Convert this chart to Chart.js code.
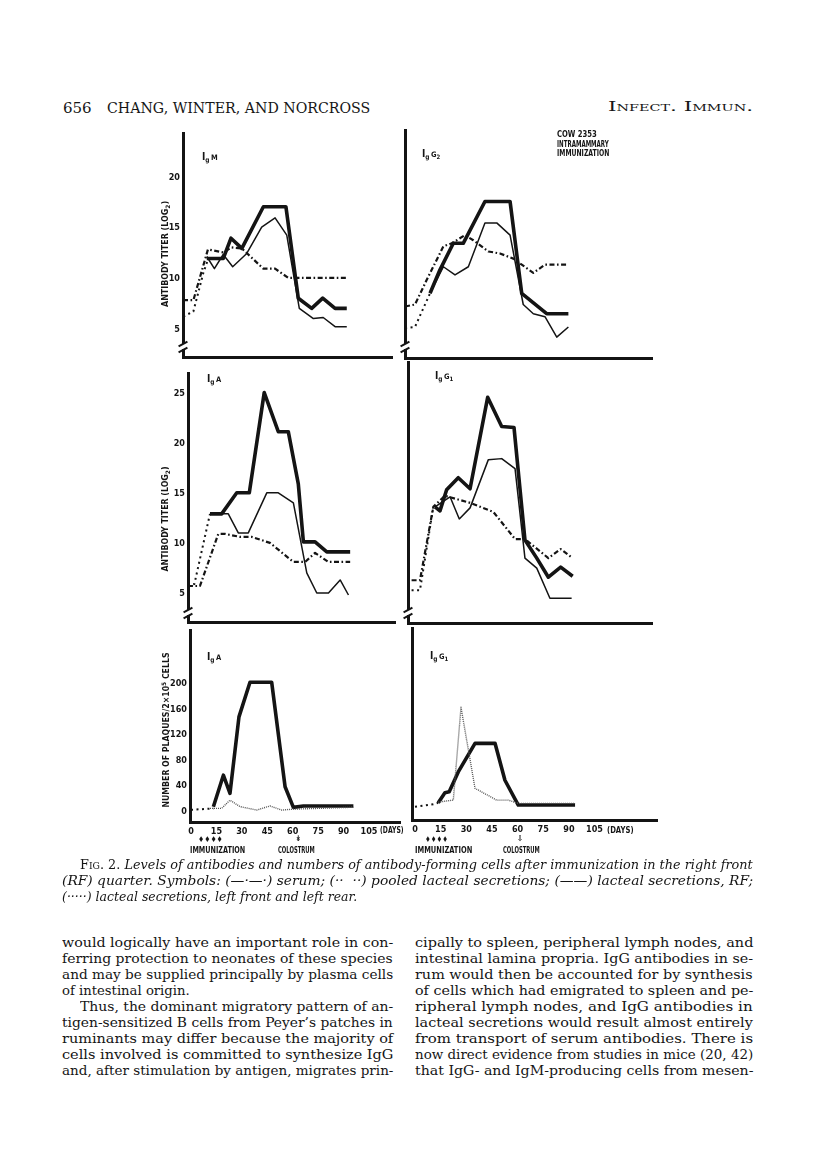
<!DOCTYPE html>
<html><head><meta charset="utf-8">
<script src="https://cdn.jsdelivr.net/npm/chart.js@4"></script>
<style>
html,body{margin:0;padding:0;background:#fff;}
#page{position:relative;width:816px;height:1175px;overflow:hidden;background:#fff;}
canvas{position:absolute;}
.t{position:absolute;white-space:nowrap;color:#151515;line-height:1;}
.lab{font-family:"DejaVu Sans Condensed","Liberation Sans Narrow","Liberation Sans",sans-serif;font-weight:bold;}
.serif{font-family:"DejaVu Serif","Liberation Serif",serif;}
.it{font-style:italic;}
.brk{position:absolute;}
</style></head>
<body><div id="page"></div>
<script>
// ---------- tick labels ----------
const DAY_TICKS = [0, 15, 30, 45, 60, 75, 90, 105];
const TITER_TICKS_TOP = [5, 10, 15, 20];
const TITER_TICKS_MID = [5, 10, 15, 20, 25];
const PLAQUE_TICKS = [0, 40, 80, 120, 160, 200];

// ---------- data: [day, value] ----------
// IgM (antibody titer, log2)
const igM_serum  = [[-4.7,7.9],[1.4,7.9],[10,12.9],[13.2,12.8],[19,12.6],[24,13.1],[30,13.0],[42.7,11.0],[49.6,11.0],[57.4,10.1],[91.9,10.1]];
const igM_pooled = [[-4.5,6.3],[1.4,6.8],[7.3,10.6],[10.2,12.0]];
const igM_rf     = [[9.3,12.0],[19,12.0],[23.6,14.0],[30,13.0],[42.7,17.1],[56,17.1],[63.3,8.1],[71.2,7.1],[77.7,8.1],[85,7.1],[91.9,7.1]];
const igM_lflr   = [[9.3,12.2],[13.8,11.0],[19,12.4],[24.6,11.2],[32.9,12.5],[41.7,15.1],[49.6,16.0],[56.5,14.3],[63.9,7.1],[72.2,6.1],[78,6.2],[85,5.3],[91.9,5.3]];
// IgG2
const igG2_serum  = [[-5.8,7.3],[0,7.5],[6.8,9.9],[16.6,13.2],[21.5,13.5],[29.2,14.3],[34.1,13.8],[42.9,12.7],[49.7,12.5],[57.5,12.0],[69.2,10.6],[76,11.4],[89.7,11.4]];
const igG2_pooled = [[-5.8,5.2],[0,5.3],[8.8,8.6]];
const igG2_rf     = [[8.8,8.6],[14.6,10.9],[22.4,13.5],[28.2,13.5],[40.9,17.6],[55.6,17.6],[62.4,8.6],[77,6.6],[89.7,6.6]];
const igG2_lflr   = [[8.8,8.6],[16.6,11.2],[23.4,10.4],[31.2,11.2],[40.9,15.5],[47.8,15.5],[55.6,14.3],[63.3,7.5],[69.2,6.6],[76,6.3],[82.9,4.3],[89.7,5.3]];
// IgA titer
const igA_serum  = [[-1.8,5.8],[5.3,5.8],[16.1,11.0],[20.1,11.0],[28.9,10.7],[35.8,10.7],[46.6,10.1],[60.4,8.2],[67.3,8.2],[73.2,9.1],[81.1,8.2],[93.9,8.2]];
const igA_pooled = [[-1.8,5.8],[2,6.0],[11.2,13.0]];
const igA_rf     = [[11.2,13.0],[18.1,13.0],[27,15.1],[34.4,15.1],[43.2,25.1],[51.5,21.2],[57.4,21.2],[63.3,16.0],[66.3,10.2],[73.2,10.2],[80.1,9.2],[93.9,9.2]];
const igA_lflr   = [[11.2,13.0],[22,13.0],[27.9,11.1],[33.8,11.1],[44.7,15.1],[51.5,15.1],[60.4,14.1],[68.3,7.1],[74.2,5.1],[81.1,5.1],[88,6.4],[92.9,4.9]];
// IgG1 titer
const igG1_serum  = [[-2,6.4],[2.9,6.4],[10.7,13.7],[17.5,14.8],[32.2,14.1],[45.8,13.2],[58.5,10.5],[64.3,10.5],[78,8.6],[85.2,9.5],[92.2,8.6]];
const igG1_pooled = [[-2,5.4],[2.9,5.4],[10.7,13.7]];
const igG1_rf     = [[11.7,13.7],[14.6,13.3],[18.5,15.4],[25.3,16.6],[32.2,15.5],[42.5,24.6],[50.7,21.7],[57.9,21.6],[64.3,10.4],[71.2,8.6],[78,6.7],[85.2,7.7],[92.2,6.8]];
const igG1_lflr   = [[11.7,13.7],[20.5,14.7],[25.9,12.5],[32.2,13.6],[42.9,18.4],[50.7,18.5],[58.5,17.5],[64.3,8.6],[71.2,7.6],[78.9,4.6],[91.6,4.6]];
// plaques / 2x10^5 cells
const pfcA_pooled  = [[0,3],[13.2,5]];
const pfcA_rf      = [[13.2,7.8],[19.1,57],[23,28.7],[28.3,148],[34.8,202],[47.6,202],[55.5,39],[60.4,6.8],[66.3,9],[95.8,9]];
const pfcA_lflr    = [[11.2,5.3],[18.1,5.3],[23,18],[28.9,8],[38.8,2.6],[46.6,9],[53.5,2.6],[60.4,4],[95.8,7]];
const pfcG1_pooled = [[0,7.8],[10.7,11.5],[13.6,14]];
const pfcG1_rf     = [[13.6,14],[17.5,29.6],[20,31],[25.3,62],[35.1,106.5],[46.8,106.5],[52.6,49],[60.4,10.4],[93.6,10.4]];
const pfcG1_lflr   = [[13.6,15],[22.4,18],[26.9,162.6],[35.1,36.4],[47.8,18],[54.6,18],[60.4,13],[93.6,13]];

// ---------- styles ----------
const INK = '#141414';
const S_SERUM  = {w:2.2, dash:[5,2.5,1.6,2.5]};
const S_POOLED = {w:2.0, dash:[2,3.5]};
const S_RF     = {w:3.6};
const S_LFLR   = {w:1.5};
const S_LFLR_B = {w:1.4, dash:[1,1], color:'#555'};

// pixel calibration of the printed figure
const leftDay  = px => (px - 191) / 1.695;
const rightDay = px => (px - 415) / 1.71;
const topVal   = py => 5 + (330 - py) / 10.2;
const midVal   = py => 5 + (594.3 - py) / 10.05;
const botVal   = py => (811.7 - py) / 0.642;

const page = document.getElementById('page');
const TICKFONT = {family:'"DejaVu Sans Condensed","Liberation Sans Narrow","Liberation Sans",sans-serif', weight:'bold', size:9};

function makeChart(p) {
  const LP = 34, TP = 8, RP = 4, BP = p.xTicks ? 20 : 8;
  const cw = p.xEnd - p.ax + LP + RP, ch = p.bottom - p.top + TP + BP;
  const c = document.createElement('canvas');
  c.width = cw; c.height = ch;
  c.style.left = (p.ax - LP) + 'px'; c.style.top = (p.top - TP) + 'px';
  c.style.width = cw + 'px'; c.style.height = ch + 'px';
  page.appendChild(c);
  const ds = p.series.map(([data, st]) => ({
    data: data.map(([x, y]) => ({x, y})),
    borderColor: st.color || INK, borderWidth: st.w, borderDash: st.dash || [],
    pointRadius: 0, fill: false, tension: 0, borderJoinStyle: 'round', borderCapStyle: 'butt'
  }));
  new Chart(c, {
    type: 'line',
    data: {datasets: ds},
    options: {
      responsive: false, animation: false, devicePixelRatio: 1,
      layout: {padding: {top: TP, right: RP, left: 0, bottom: 0}},
      plugins: {legend: {display: false}, tooltip: {enabled: false}},
      scales: {
        x: {type: 'linear', min: p.xMin, max: p.xMax,
            grid: {display: false, drawTicks: false},
            border: {display: true, width: 3, color: INK},
            ticks: {display: !!p.xTicks, autoSkip: false, maxRotation: 0, padding: 4, font: TICKFONT, color: INK},
            afterBuildTicks: s => { s.ticks = (p.xTicks || []).map(v => ({value: v})); },
            afterFit: s => { s.height = BP; }},
        y: {type: 'linear', min: p.yMin, max: p.yMax,
            grid: {display: false, drawTicks: false},
            border: {display: true, width: 3, color: INK},
            ticks: {display: !!p.yTicks, autoSkip: false, padding: 3, font: TICKFONT, color: INK},
            afterBuildTicks: s => { s.ticks = (p.yTicks || []).map(v => ({value: v})); },
            afterFit: s => { s.width = LP; }}
      }
    }
  });
}

const panels = [
  {ax:183, xEnd:392, top:133, bottom:358, xMin:leftDay(183), xMax:leftDay(392), yMin:topVal(358), yMax:topVal(133), yTicks:TITER_TICKS_TOP,
   series:[[igM_serum,S_SERUM],[igM_pooled,S_POOLED],[igM_lflr,S_LFLR],[igM_rf,S_RF]]},
  {ax:405, xEnd:652, top:130, bottom:358, xMin:rightDay(405), xMax:rightDay(652), yMin:topVal(358), yMax:topVal(130),
   series:[[igG2_serum,S_SERUM],[igG2_pooled,S_POOLED],[igG2_lflr,S_LFLR],[igG2_rf,S_RF]]},
  {ax:188, xEnd:395, top:373, bottom:623, xMin:leftDay(188), xMax:leftDay(395), yMin:midVal(623), yMax:midVal(373), yTicks:TITER_TICKS_MID,
   series:[[igA_serum,S_SERUM],[igA_pooled,S_POOLED],[igA_lflr,S_LFLR],[igA_rf,S_RF]]},
  {ax:408, xEnd:652, top:362, bottom:623, xMin:rightDay(408), xMax:rightDay(652), yMin:midVal(623), yMax:midVal(362),
   series:[[igG1_serum,S_SERUM],[igG1_pooled,S_POOLED],[igG1_lflr,S_LFLR],[igG1_rf,S_RF]]},
  {ax:190, xEnd:400, top:630, bottom:822, xMin:leftDay(190), xMax:leftDay(400), yMin:botVal(822), yMax:botVal(630), yTicks:PLAQUE_TICKS, xTicks:DAY_TICKS,
   series:[[pfcA_pooled,S_POOLED],[pfcA_lflr,S_LFLR_B],[pfcA_rf,S_RF]]},
  {ax:412, xEnd:657, top:628, bottom:820, xMin:rightDay(412), xMax:rightDay(657), yMin:botVal(820), yMax:botVal(628), xTicks:DAY_TICKS,
   series:[[pfcG1_pooled,S_POOLED],[pfcG1_lflr,S_LFLR_B],[pfcG1_rf,S_RF]]}
];
panels.forEach(makeChart);

// axis break marks on the titer panels
function brk(x, y) {
  const g = document.createElement('div');
  g.className = 'brk';
  g.style.cssText = `left:${x-4}px;top:${y-3}px;width:8px;height:5px;background:#fff;`;
  page.appendChild(g);
  [-3, 3].forEach(dy => {
    const l = document.createElement('div');
    l.className = 'brk';
    l.style.cssText = `left:${x-5}px;top:${y+dy-1}px;width:10px;height:2px;background:${INK};transform:rotate(-28deg);`;
    page.appendChild(l);
  });
}
brk(183, 347); brk(405, 347); brk(188, 613); brk(408, 613);

// ---------- text ----------
function T(html, x, y, o = {}) {
  const d = document.createElement('div');
  d.className = 't ' + (o.cls || '');
  d.innerHTML = html;
  if (o.size) d.style.fontSize = o.size + 'px';
  if (o.css) Object.assign(d.style, o.css);
  page.appendChild(d);
  const w0 = d.offsetWidth, h0 = d.offsetHeight;
  if (o.rot) {
    d.style.left = (x - w0 / 2) + 'px'; d.style.top = (y - h0 / 2) + 'px';
    d.style.transformOrigin = 'center center';
    d.style.transform = 'rotate(-90deg)' + (o.w ? ` scaleX(${o.w / w0})` : '');
  } else {
    const lx = o.center ? x - (o.w || w0) / 2 : x;
    d.style.left = lx + 'px'; d.style.top = (y - h0 / 2) + 'px';
    d.style.transformOrigin = 'left center';
    if (o.w) d.style.transform = `scaleX(${o.w / w0})`;
  }
  return d;
}
const Ig = (s) => `<span style="font-size:10px">I</span><span style="font-size:6.5px;position:relative;top:2px">g</span><span style="font-size:7.5px">&thinsp;${s}</span>`;
const SUB = (s) => `<span style="font-size:6px;position:relative;top:2px">${s}</span>`;

// header
T('656', 63, 108, {cls:'serif', size:14.5, w:29});
T('CHANG, WINTER, AND NORCROSS', 107, 108, {cls:'serif', size:14.5, w:263});
T('Infect. Immun.', 608, 107, {cls:'serif', size:13.5, w:145, css:{fontVariant:'small-caps'}});

// figure labels
T('COW 2353', 557, 135, {cls:'lab', size:8, w:40});
T('INTRAMAMMARY', 557, 145, {cls:'lab', size:8, w:52});
T('IMMUNIZATION', 557, 154, {cls:'lab', size:8, w:52});
T(Ig('M'), 202, 155, {cls:'lab'});
T(Ig('G' + SUB('2')), 422, 152, {cls:'lab'});
T(Ig('A'), 207, 377, {cls:'lab'});
T(Ig('G' + SUB('1')), 435, 374, {cls:'lab'});
T(Ig('A'), 207, 655, {cls:'lab'});
T(Ig('G' + SUB('1')), 430, 654, {cls:'lab'});

T('ANTIBODY TITER (LOG' + SUB('2') + ')', 166, 254, {cls:'lab', size:8, rot:true, w:106});
T('ANTIBODY TITER (LOG' + SUB('2') + ')', 166, 519, {cls:'lab', size:8, rot:true, w:105});
T('NUMBER OF PLAQUES/2\u00d710<span style="font-size:6px;position:relative;top:-3px">5</span> CELLS', 166, 730, {cls:'lab', size:8, rot:true, w:155});

T('(DAYS)', 380, 830, {cls:'lab', size:8.5, w:24});
T('(DAYS)', 607, 830, {cls:'lab', size:8.5, w:27});
T('\u2666\u2666\u2666\u2666', 198, 840, {cls:'lab', size:8, w:25});
T('IMMUNIZATION', 190, 850, {cls:'lab', size:8.5, w:55});
T('\u21a1', 298, 839, {cls:'lab', size:8, center:true});
T('COLOSTRUM', 278, 850, {cls:'lab', size:8.5, w:37});
T('\u2666\u2666\u2666\u2666', 425, 840, {cls:'lab', size:8, w:23});
T('IMMUNIZATION', 415, 850, {cls:'lab', size:8.5, w:57});
T('\u21e9', 520, 839, {cls:'lab', size:8, center:true});
T('COLOSTRUM', 503, 850, {cls:'lab', size:8.5, w:37});

// caption
T('<span style="font-style:normal;font-variant:small-caps">Fig. 2.</span> Levels of antibodies and numbers of antibody-forming cells after immunization in the right front', 80, 865, {cls:'serif it', size:12.5, w:673});
T('(RF) quarter. Symbols: (\u2014\u00b7\u2014\u00b7) serum; (\u00b7\u00b7 &nbsp;\u00b7\u00b7) pooled lacteal secretions; (\u2014\u2014) lacteal secretions, RF;', 62, 881, {cls:'serif it', size:12.5, w:691});
T('(\u00b7\u00b7\u00b7\u00b7\u00b7) lacteal secretions, left front and left rear.', 62, 897, {cls:'serif it', size:12.5});

// body text
const leftCol = [
  ['would logically have an important role in con-', 62, 331],
  ['ferring protection to neonates of these species', 62, 331],
  ['and may be supplied principally by plasma cells', 62, 331],
  ['of intestinal origin.', 62, 0],
  ['Thus, the dominant migratory pattern of an-', 80, 313],
  ['tigen-sensitized B cells from Peyer\u2019s patches in', 62, 331],
  ['ruminants may differ because the majority of', 62, 331],
  ['cells involved is committed to synthesize IgG', 62, 331],
  ['and, after stimulation by antigen, migrates prin-', 62, 331]
];
const rightCol = [
  ['cipally to spleen, peripheral lymph nodes, and', 415, 338],
  ['intestinal lamina propria. IgG antibodies in se-', 415, 338],
  ['rum would then be accounted for by synthesis', 415, 338],
  ['of cells which had emigrated to spleen and pe-', 415, 338],
  ['ripheral lymph nodes, and IgG antibodies in', 415, 338],
  ['lacteal secretions would result almost entirely', 415, 338],
  ['from transport of serum antibodies. There is', 415, 338],
  ['now direct evidence from studies in mice (20, 42)', 415, 338],
  ['that IgG- and IgM-producing cells from mesen-', 415, 338]
];
[leftCol, rightCol].forEach(col => col.forEach(([s, x, w], i) => {
  const o = {cls:'serif', size:13.2};
  if (w) o.w = w;
  T(s, x, 942 + 16 * i, o);
}));
</script>
</body></html>
